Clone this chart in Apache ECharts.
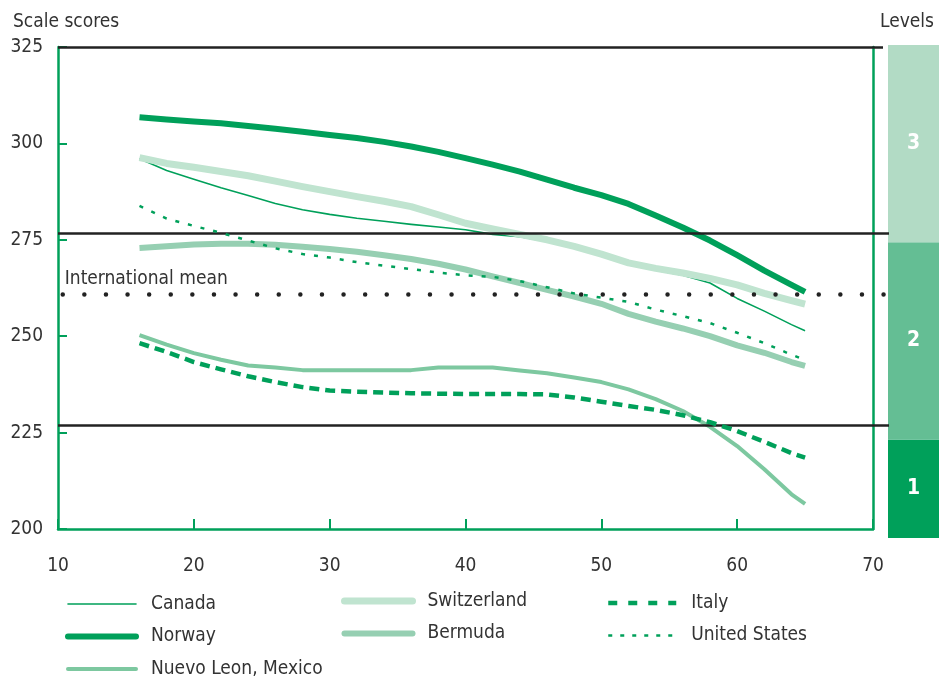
<!DOCTYPE html>
<html>
<head>
<meta charset="utf-8">
<script src="https://cdn.jsdelivr.net/npm/echarts@6/dist/echarts.min.js"></script>
<style>html,body{margin:0;padding:0;background:#fff}#c{width:939px;height:678px}</style>
</head>
<body>
<div id="c"></div>
<script>
const ages = [16,18,20,22,24,26,28,30,32,34,36,38,40,42,44,46,48,50,52,54,56,58,60,62,64,65];
const canada      = [296.0,293.0,290.7,288.5,286.5,284.4,282.8,281.6,280.6,279.8,279.0,278.3,277.6,276.4,275.8,274.6,272.9,270.9,268.7,267.1,265.8,263.8,259.8,256.5,253.0,251.4];
const norway      = [306.8,306.2,305.7,305.2,304.5,303.8,303.0,302.2,301.4,300.4,299.2,297.8,296.2,294.5,292.7,290.6,288.5,286.6,284.3,281.3,278.2,274.8,271.0,267.0,263.3,261.5];
const nuevoLeon   = [250.3,247.8,245.6,243.9,242.4,241.9,241.2,241.2,241.2,241.2,241.2,241.9,241.9,241.9,241.1,240.4,239.3,238.1,236.2,233.7,230.6,226.5,221.5,215.5,209.0,206.5];
const switzerland = [296.3,294.8,293.8,292.7,291.6,290.2,288.8,287.5,286.2,285.0,283.6,281.5,279.3,277.8,276.4,275.0,273.3,271.3,269.0,267.6,266.4,265.0,263.3,261.1,259.2,258.3];
const bermuda     = [272.9,273.3,273.8,274.0,274.0,273.7,273.2,272.6,271.9,271.0,270.0,268.8,267.3,265.5,263.8,262.0,260.3,258.4,255.8,253.8,252.0,250.0,247.6,245.7,243.3,242.3];
const italy       = [248.2,245.9,243.3,241.4,239.6,238.1,236.8,235.9,235.6,235.4,235.2,235.1,235.0,235.0,235.0,234.9,234.1,233.0,231.9,230.9,229.5,227.7,225.4,222.6,219.7,218.5];
const unitedStates= [283.8,280.5,278.6,276.8,274.8,272.8,271.3,270.4,269.2,268.3,267.4,266.5,265.8,265.4,264.3,262.7,261.1,260.0,258.9,256.9,255.2,253.4,250.9,248.2,245.2,243.8];

const xTicks = [10, 70, 10];      // min, max, interval
const yTicks = [200, 325, 25];    // min, max, interval
const levelBounds = [200, 225, 275, 325];
const levelNames = ['1', '2', '3'];
const levelLines = [325, 276.7, 227];
const internationalMean = 260.8;

const FONT = "'Liberation Sans Narrow', 'DejaVu Sans Condensed', 'Roboto', sans-serif";
const GREEN = '#00a05a';
const pair = arr => ages.map((a, i) => [a, arr[i]]);

const styles = {
  'Canada':             { color: GREEN,     width: 1.6, type: 'solid', z: 2 },
  'Switzerland':        { color: '#c0e4d0', width: 7,   type: 'solid', z: 3 },
  'Bermuda':            { color: '#96cfb2', width: 6,   type: 'solid', z: 3 },
  'Nuevo Leon, Mexico': { color: '#7dc8a0', width: 4,   type: 'solid', z: 3 },
  'Norway':             { color: GREEN,     width: 6,   type: 'solid', z: 4 },
  'Italy':              { color: GREEN,     width: 4.5, type: [10, 6], z: 5 },
  'United States':      { color: GREEN,     width: 2.5, type: [4, 9],  z: 5 }
};
const seriesData = {
  'Canada': canada, 'Switzerland': switzerland, 'Bermuda': bermuda,
  'Nuevo Leon, Mexico': nuevoLeon, 'Norway': norway, 'Italy': italy, 'United States': unitedStates
};

function lineSeries(name) {
  const s = styles[name];
  return {
    name, type: 'line', data: pair(seriesData[name]), xAxisIndex: 0, yAxisIndex: 0,
    symbol: 'none', showSymbol: false, smooth: false, z: s.z,
    lineStyle: { color: s.color, width: s.width, type: s.type, cap: 'butt', join: 'round' },
    itemStyle: { color: s.color },
    emphasis: { disabled: true }
  };
}
function legendItem(name) {
  const s = styles[name];
  const legendType = name === 'Italy' ? [9, 11] : (name === 'United States' ? [4, 8] : 'solid');
  const cap = (name === 'Italy' || name === 'United States') ? 'butt' : 'round';
  return { name, itemStyle: { opacity: 0 }, lineStyle: { color: s.color, width: s.width, type: legendType, cap } };
}

const levelColors = ['#00a05a', '#64be94', '#b2dbc5'];
const levelSeries = levelNames.map((n, i) => ({
  name: 'Level ' + n, type: 'bar', stack: 'lv', xAxisIndex: 2, yAxisIndex: 3,
  data: [i === 0 ? levelBounds[1] : levelBounds[i + 1] - levelBounds[i]],
  barWidth: '100%', barCategoryGap: 0,
  itemStyle: { color: levelColors[i] },
  label: { show: true, position: 'inside', formatter: n, color: '#fff', fontSize: 21, fontWeight: 'bold', fontFamily: FONT },
  emphasis: { disabled: true }, silent: true
}));

const pxPerUnit = 815 / 60;
const overlayMax = 10 + 831 / pxPerUnit;
const topLineEnd = 10 + (883 - 58) / pxPerUnit;
const meanEnd = 10 + (884.5 - 58) / pxPerUnit;
const blackLine = { color: '#222', width: 2.5, type: 'solid' };

const legendBase = {
  orient: 'vertical', itemWidth: 68, itemHeight: 14, itemGap: 12.5, padding: 0, selectedMode: false,
  height: 100, width: 250,
  textStyle: { fontSize: 19, fontFamily: FONT, color: '#333', lineHeight: 20, padding: [0, 0, 0, 10] }
};

const option = {
  animation: false,
  backgroundColor: '#fff',
  textStyle: { fontFamily: FONT },
  title: [
    { text: 'Scale scores', left: 8, top: 8, textStyle: { fontFamily: FONT, fontSize: 19, fontWeight: 'normal', color: '#333' } },
    { text: 'Levels', right: 0, top: 8, textStyle: { fontFamily: FONT, fontSize: 19, fontWeight: 'normal', color: '#333' } }
  ],
  grid: [
    { left: 58, right: 66, top: 47, bottom: 149, containLabel: false },
    { left: 58, right: 50, top: 47, bottom: 149, containLabel: false },
    { left: 888, right: 0, top: 45, bottom: 140, containLabel: false }
  ],
  xAxis: [
    { type: 'value', gridIndex: 0, min: xTicks[0], max: xTicks[1], interval: xTicks[2],
      axisLine: { show: true, lineStyle: { color: GREEN, width: 2.5 } },
      axisTick: { show: true, inside: true, length: 10, lineStyle: { color: GREEN, width: 2 } },
      axisLabel: { color: '#333', fontSize: 19, fontFamily: FONT, margin: 28 },
      splitLine: { show: false } },
    { type: 'value', gridIndex: 1, min: xTicks[0], max: overlayMax, show: false },
    { type: 'category', gridIndex: 2, data: ['Levels'], show: false }
  ],
  yAxis: [
    { type: 'value', gridIndex: 0, min: yTicks[0], max: yTicks[1], interval: yTicks[2],
      axisLine: { show: true, lineStyle: { color: GREEN, width: 2.5 } },
      axisTick: { show: true, inside: true, length: 9, lineStyle: { color: GREEN, width: 2 } },
      axisLabel: { color: '#333', fontSize: 19, fontFamily: FONT, margin: 15 },
      splitLine: { show: false } },
    { type: 'value', gridIndex: 0, position: 'right', min: yTicks[0], max: yTicks[1],
      axisLine: { show: true, lineStyle: { color: GREEN, width: 2.5 } },
      axisTick: { show: false }, axisLabel: { show: false }, splitLine: { show: false } },
    { type: 'value', gridIndex: 1, min: yTicks[0], max: yTicks[1], show: false },
    { type: 'value', gridIndex: 2, min: levelBounds[0], max: levelBounds[3], show: false }
  ],
  legend: [
    Object.assign({}, legendBase, { left: 65, top: 594, data: ['Canada', 'Norway', 'Nuevo Leon, Mexico'].map(legendItem) }),
    Object.assign({}, legendBase, { left: 341, top: 591, data: ['Switzerland', 'Bermuda'].map(legendItem) }),
    Object.assign({}, legendBase, { left: 606, top: 593, data: ['Italy', 'United States'].map(legendItem) })
  ],
  series: [
    ...['Canada', 'Switzerland', 'Bermuda', 'Nuevo Leon, Mexico', 'Norway', 'Italy', 'United States'].map(lineSeries),
    {
      type: 'line', xAxisIndex: 1, yAxisIndex: 2, data: [], z: 10, silent: true,
      markLine: {
        silent: true, symbol: 'none', animation: false,
        data: [
          [{ coord: [xTicks[0], levelLines[0]], lineStyle: blackLine, label: { show: false } }, { coord: [topLineEnd, levelLines[0]] }],
          { yAxis: levelLines[1], lineStyle: blackLine, label: { show: false } },
          { yAxis: levelLines[2], lineStyle: blackLine, label: { show: false } },
          [{ coord: [xTicks[0] + 0.35, internationalMean],
             lineStyle: { color: '#222', width: 4.5, type: [0, 21.6], cap: 'round' },
             label: { show: true, position: 'insideStartTop', formatter: 'International mean', color: '#333', fontSize: 19, fontFamily: FONT, distance: [2, 6] } },
           { coord: [meanEnd, internationalMean] }]
        ]
      }
    },
    ...levelSeries
  ]
};
const chart = echarts.init(document.getElementById('c'), null, { renderer: 'canvas' });
chart.setOption(option);
</script>
</body>
</html>
